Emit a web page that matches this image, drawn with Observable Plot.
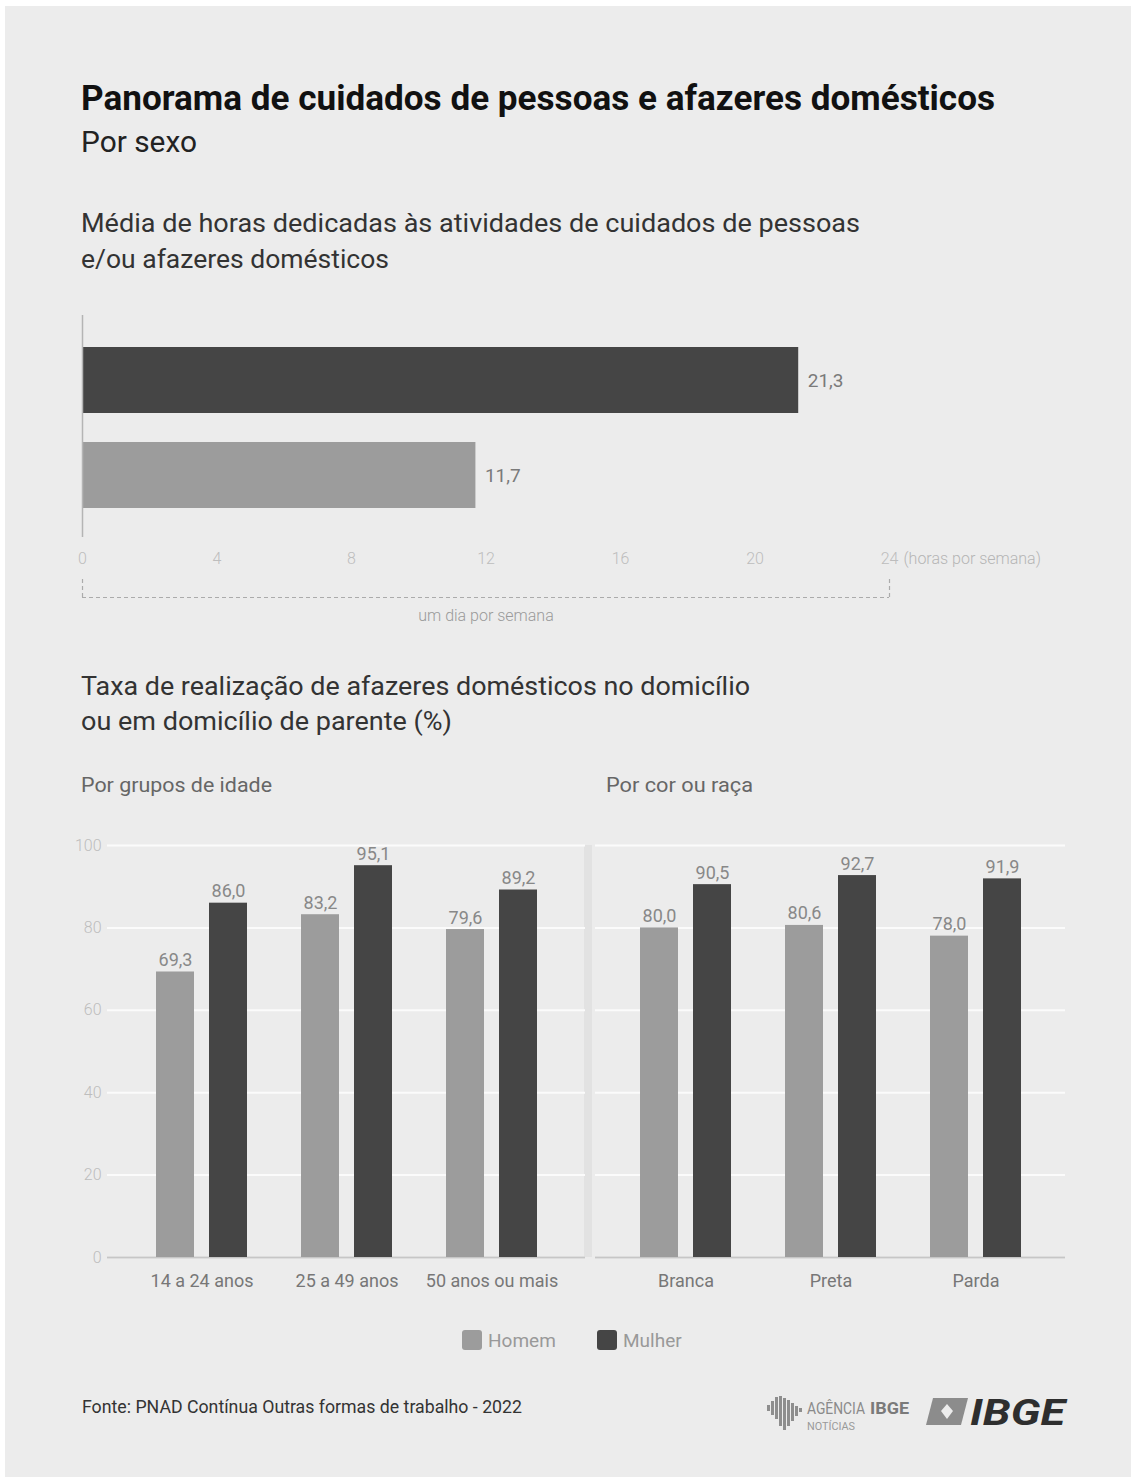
<!DOCTYPE html>
<html>
<head>
<meta charset="utf-8">
<script src="https://cdn.jsdelivr.net/npm/d3@7"></script>
<script src="https://cdn.jsdelivr.net/npm/@observablehq/plot@0.6"></script>
<style>
  html, body { margin: 0; padding: 0; background: #ffffff; }
  #page { position: relative; width: 1131px; height: 1479px; overflow: hidden; font-family: Roboto, sans-serif; }
  #card { position: absolute; left: 5px; top: 6px; width: 1126px; height: 1471px; background: #ececec; }
  .layer { position: absolute; left: 0; }
  svg text { font-family: Roboto, sans-serif; }
</style>
</head>
<body>
<div id="page">
  <div id="card"></div>
  <svg id="overlay" class="layer" style="top:0" width="1131" height="1479" xmlns="http://www.w3.org/2000/svg">
    <text x="81" y="110" font-size="35" font-weight="700" fill="#111" textLength="914" lengthAdjust="spacingAndGlyphs">Panorama de cuidados de pessoas e afazeres domésticos</text>
    <text x="81" y="152" font-size="29" fill="#222" textLength="116" lengthAdjust="spacingAndGlyphs">Por sexo</text>
    <text x="81" y="232" font-size="26" fill="#333" textLength="779" lengthAdjust="spacingAndGlyphs">Média de horas dedicadas às atividades de cuidados de pessoas</text>
    <text x="81" y="268" font-size="26" fill="#333" textLength="308" lengthAdjust="spacingAndGlyphs">e/ou afazeres domésticos</text>
    <text x="81" y="695" font-size="26" fill="#333" textLength="669" lengthAdjust="spacingAndGlyphs">Taxa de realização de afazeres domésticos no domicílio</text>
    <text x="81" y="730" font-size="26" fill="#333" textLength="371" lengthAdjust="spacingAndGlyphs">ou em domicílio de parente (%)</text>
    <text x="81" y="792" font-size="21" fill="#666" textLength="191" lengthAdjust="spacingAndGlyphs">Por grupos de idade</text>
    <text x="606" y="792" font-size="21" fill="#666" textLength="147" lengthAdjust="spacingAndGlyphs">Por cor ou raça</text>
    <rect x="584" y="845" width="8" height="412" fill="#e2e2e2"></rect>
    <text x="82" y="1413" font-size="17.5" fill="#333" textLength="440" lengthAdjust="spacingAndGlyphs">Fonte: PNAD Contínua Outras formas de trabalho - 2022</text>
    <g id="logos">
      <g fill="#8e8e8e">
        <rect x="767" y="1405" width="3" height="6"></rect>
        <rect x="771" y="1401" width="3" height="14"></rect>
        <rect x="775" y="1397" width="3" height="22"></rect>
        <rect x="779" y="1396" width="3" height="30"></rect>
        <rect x="783" y="1398" width="3" height="32"></rect>
        <rect x="787" y="1400" width="3" height="26"></rect>
        <rect x="791" y="1403" width="3" height="18"></rect>
        <rect x="795" y="1406" width="3" height="10"></rect>
        <rect x="799" y="1408" width="3" height="4"></rect>
      </g>
      <text transform="translate(807,1414) scale(1,1.25)" x="0" y="0" font-size="13.5" fill="#8a8a8a" textLength="58" lengthAdjust="spacingAndGlyphs">AGÊNCIA</text>
      <text transform="translate(870,1414) scale(1,1.25)" x="0" y="0" font-size="13.5" font-weight="700" fill="#7a7a7a" textLength="39" lengthAdjust="spacingAndGlyphs">IBGE</text>
      <text x="807" y="1430" font-size="11.5" fill="#9a9a9a" textLength="48" lengthAdjust="spacingAndGlyphs">NOTÍCIAS</text>
      <polygon points="933,1398 968,1398 961,1425 926,1425" fill="#8c8c8c"></polygon>
      <polygon points="947,1404 953,1411 947,1419 941,1411" fill="#ececec"></polygon>
      <text x="970" y="1425" font-size="37" font-weight="700" font-style="italic" fill="#2e2e2e" textLength="95" lengthAdjust="spacingAndGlyphs">IBGE</text>
    </g>
    <g id="legend"></g>
  </svg>
  <div id="top" class="layer" style="top:300px"></div>
  <div id="bracket" class="layer" style="top:570px"></div>
  <div id="left" class="layer" style="top:820px"></div>
  <div id="right" class="layer" style="top:820px"></div>
</div>
<script>
// ---------- DATA ----------
const sexos = ["Homem", "Mulher"];
const coresSexo = ["#9c9c9c", "#454545"];

// Média de horas por semana
const horasSexo = ["Mulher", "Homem"];
const horasValores = [21.3, 11.7];
const horasTicks = [0, 4, 8, 12, 16, 20, 24];
const umDia = 24; // um dia por semana (horas)

// Taxa de realização (%) por grupos de idade
const idades = ["14 a 24 anos", "25 a 49 anos", "50 anos ou mais"];
const idadeHomem = [69.3, 83.2, 79.6];
const idadeMulher = [86.0, 95.1, 89.2];

// Taxa de realização (%) por cor ou raça
const racas = ["Branca", "Preta", "Parda"];
const racaHomem = [80.0, 80.6, 78.0];
const racaMulher = [90.5, 92.7, 91.9];

const taxaTicks = [0, 20, 40, 60, 80, 100];

// ---------- HELPERS ----------
const W = 1131;
const fmt = v => v.toFixed(1).replace(".", ",");
const colorScale = { domain: sexos, range: coresSexo };
const baseStyle = { background: "transparent", fontFamily: "Roboto, sans-serif", overflow: "visible" };

// ---------- TOP CHART ----------
const topData = horasSexo.map((s, i) => ({ sexo: s, horas: horasValores[i] }));
const topPlot = Plot.plot({
  width: W, height: 330,
  marginLeft: 82, marginRight: W - 889, marginTop: 15, marginBottom: 93,
  style: baseStyle,
  x: { domain: [0, 24], axis: null },
  y: { domain: horasSexo, paddingInner: 0.304, paddingOuter: 0.314, align: 0.53, axis: null },
  color: colorScale,
  marks: [
    Plot.barX(topData, { x: "horas", y: "sexo", fill: "sexo" }),
    Plot.ruleX([0], { stroke: "#b4b4b4", strokeWidth: 1.5 }),
    Plot.text(topData, { x: "horas", y: "sexo", text: d => fmt(d.horas), textAnchor: "start", dx: 9, fill: "#7a7a7a", fontSize: 19 }),
    Plot.axisX(horasTicks, { tickSize: 0, tickPadding: 15, color: "#bdbdbd", fontSize: 16, fontWeight: 300, label: null, tickFormat: d => String(d) }),
    Plot.text(["(horas por semana)"], { x: 24, frameAnchor: "bottom", dy: 15, dx: 14, lineAnchor: "top", textAnchor: "start", fill: "#b5b5b5", fontSize: 16, fontWeight: 300 })
  ]
});
document.getElementById("top").appendChild(topPlot);

// ---------- BRACKET (um dia por semana) ----------
const bracketPlot = Plot.plot({
  width: W, height: 60,
  marginLeft: 82, marginRight: W - 889, marginTop: 6, marginBottom: 33,
  style: baseStyle,
  x: { domain: [0, 24], axis: null },
  y: { domain: [0, 1], axis: null },
  marks: [
    Plot.ruleX([0, umDia], { x: d => d, y1: 0, y2: 1, stroke: "#ababab", strokeWidth: 1.2, strokeDasharray: "4,3" }),
    Plot.ruleY([0], { x1: 0, x2: umDia, stroke: "#ababab", strokeWidth: 1.2, strokeDasharray: "4,3" }),
    Plot.text(["um dia por semana"], { x: umDia / 2, y: 0, dy: 18, fill: "#9a9a9a", fontSize: 16, fontWeight: 300 })
  ]
});
document.getElementById("bracket").appendChild(bracketPlot);

// ---------- BOTTOM PANELS ----------
function panel(groups, homem, mulher, left, right, paddingOuter, showY) {
  const data = [];
  groups.forEach((g, i) => {
    data.push({ grupo: g, sexo: "Homem", valor: homem[i] });
    data.push({ grupo: g, sexo: "Mulher", valor: mulher[i] });
  });
  const h = data.filter(d => d.sexo === "Homem");
  const m = data.filter(d => d.sexo === "Mulher");
  const marks = [
    Plot.gridY(taxaTicks, { stroke: "#fbfbfb", strokeOpacity: 1, strokeWidth: 2 })
  ];
  if (showY) marks.push(Plot.axisY(taxaTicks, { tickSize: 0, tickPadding: 6, color: "#bdbdbd", fontSize: 16, fontWeight: 300, label: null }));
  marks.push(
    Plot.ruleY([0], { stroke: "#c6c6c6", strokeWidth: 2 }),
    Plot.barY(h, { x: "grupo", y: "valor", fill: "sexo", insetRight: 53 }),
    Plot.barY(m, { x: "grupo", y: "valor", fill: "sexo", insetLeft: 53 }),
    Plot.text(h, { x: "grupo", y: "valor", text: d => fmt(d.valor), dx: -26.5, dy: -6, lineAnchor: "bottom", fill: "#888", fontSize: 18 }),
    Plot.text(m, { x: "grupo", y: "valor", text: d => fmt(d.valor), dx: 26.5, dy: -6, lineAnchor: "bottom", fill: "#888", fontSize: 18 }),
    Plot.axisX({ tickSize: 0, tickPadding: 17, color: "#777", fontSize: 18, label: null })
  );
  return Plot.plot({
    width: W, height: 500,
    marginLeft: left, marginRight: W - right, marginTop: 25, marginBottom: 63,
    style: baseStyle,
    x: { domain: groups, paddingInner: 0.375, paddingOuter, align: 0.5 },
    y: { domain: [0, 100], axis: null },
    color: colorScale,
    marks
  });
}
document.getElementById("left").appendChild(panel(idades, idadeHomem, idadeMulher, 107, 585, 0.33, true));
document.getElementById("right").appendChild(panel(racas, racaHomem, racaMulher, 595, 1065, 0.303, false));

// ---------- LEGEND ----------
const legend = d3.select("#legend");
const legendX = [462, 597];
sexos.forEach((s, i) => {
  legend.append("rect").attr("x", legendX[i]).attr("y", 1330).attr("width", 20).attr("height", 20)
    .attr("rx", 3).attr("fill", coresSexo[i]);
  legend.append("text").attr("x", legendX[i] + 26).attr("y", 1347).attr("font-size", 19)
    .attr("fill", "#999").text(s);
});
</script>
</body>
</html>
